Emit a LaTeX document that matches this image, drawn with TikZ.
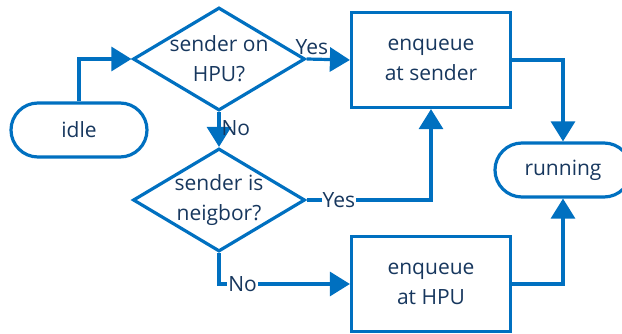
\documentclass[tikz,border=0pt]{standalone}
\usepackage{fontspec}
\setmainfont{Open Sans}
\usepackage{tikz}
\usetikzlibrary{shapes.geometric, arrows.meta}
\definecolor{flowBlue}{RGB}{0,112,192}
\definecolor{flowText}{RGB}{23,55,94}
\tikzstyle{decisionShape}=[shape = diamond, draw = flowBlue, line width = 3.2pt, aspect = 1.67, inner sep = -12pt, minimum width = 172pt, minimum height = 103pt, align = center, text = flowText]
\tikzstyle{processBox}=[shape = rectangle, draw = flowBlue, line width = 3.2pt, minimum width = 159pt, minimum height = 95pt, align = center, text = flowText]
\tikzstyle{terminalShape}=[shape = rectangle, rounded corners = 27pt, draw = flowBlue, line width = 3.2pt, minimum width = 136pt, minimum height = 54pt, text = flowText]

\begin{document}
\begin{tikzpicture}[x = 1pt, y = -1pt, font = \fontsize{21}{30}\selectfont]
\tikzstyle{flowEdge} = [draw = flowBlue, line width = 3.2pt, -{Triangle[length = 20pt, width = 24pt]}]
\tikzstyle{edgeLabel} = [text = flowText, inner sep = 1pt]
\clip (0,0) rectangle (622,334);
\node[style = terminalShape] (idle) at (79,130) {idle};
\node[style = decisionShape] (onHPU) at (219,59) {sender on\\HPU?};
\node[style = decisionShape] (isNeighbor) at (219,200) {sender is\\neigbor?};
\node[style = processBox] (atSender) at (431,60) {enqueue\\at sender};
\node[style = processBox] (atHPU) at (431,284) {enqueue\\at HPU};
\node[style = terminalShape] (running) at (563,170) {running};
\draw[flowEdge] (idle.north) |- (onHPU.west);
\draw[flowEdge] (onHPU.east) -- node[edgeLabel, above, pos = 0.12, inner sep = 3pt] {Yes} (atSender.west);
\draw[flowEdge] (onHPU.south) -- node[edgeLabel, right, pos = 0.45] {No} (isNeighbor.north);
\draw[flowEdge] (isNeighbor.east) -- node[edgeLabel, fill = white, pos = 0.26] {Yes} (atSender.south |- isNeighbor.east) -- (atSender.south);
\draw[flowEdge] (isNeighbor.south) -- (isNeighbor.south |- atHPU.west) -- node[edgeLabel, fill = white, pos = 0.18] {No} (atHPU.west);
\draw[flowEdge] (atSender.east) -| (running.north);
\draw[flowEdge] (atHPU.east) -| (running.south);
\end{tikzpicture}
\end{document}
